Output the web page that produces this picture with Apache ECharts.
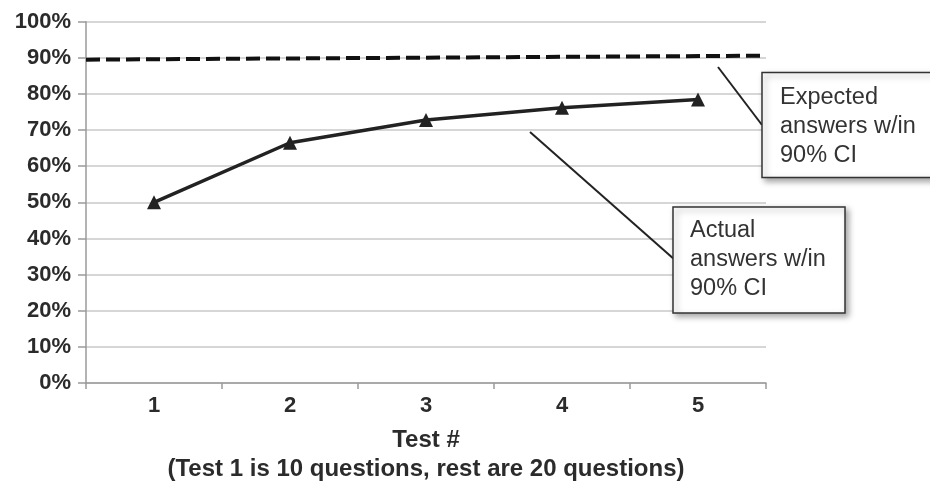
<!DOCTYPE html>
<html>
<head>
<meta charset="utf-8">
<script src="https://cdn.jsdelivr.net/npm/echarts@6/dist/echarts.min.js"></script>
<style>
  html, body { margin: 0; padding: 0; background: #fff; }
  #chart { width: 930px; height: 493px; }
</style>
</head>
<body>
<div id="chart"></div>
<script>
// Test number along the x axis
const tests = ['1', '2', '3', '4', '5'];
// Cumulative share of answers that fell inside the 90% confidence interval
const actualPct = [50, 66.5, 72.8, 76.2, 78.5];
// Expected share, drawn across the full plot width (start, end)
const expectedPct = [89.5, 90.6];
const expectedSpan = [0, 1];

const FONT = '"Liberation Sans", Arial, Helvetica, sans-serif';
const INK = '#2b2b2b';

const chart = echarts.init(document.getElementById('chart'), null, { renderer: 'canvas' });

chart.setOption({
  backgroundColor: '#ffffff',
  animation: false,
  grid: { left: 86, top: 21.7, width: 680, bottom: 110, containLabel: false },
  xAxis: [
    {
      type: 'category',
      data: tests,
      boundaryGap: true,
      axisLine: { show: true, lineStyle: { color: '#9a9a9a', width: 1.5 } },
      axisTick: { show: true, length: 6, lineStyle: { color: '#9a9a9a', width: 1.5 } },
      axisLabel: { margin: 12, color: INK, fontFamily: FONT, fontWeight: 'bold', fontSize: 22 },
      name: 'Test #\n(Test 1 is 10 questions, rest are 20 questions)',
      nameLocation: 'middle',
      nameGap: 43,
      nameTextStyle: { color: INK, fontFamily: FONT, fontWeight: 'bold', fontSize: 24, lineHeight: 29 }
    },
    {
      type: 'value',
      min: 0,
      max: 1,
      show: false
    }
  ],
  yAxis: {
    type: 'value',
    min: 0,
    max: 100,
    interval: 10,
    axisLine: { show: true, lineStyle: { color: '#9a9a9a', width: 1.5 } },
    axisTick: { show: true, length: 8, lineStyle: { color: '#9a9a9a', width: 1.5 } },
    axisLabel: { formatter: '{value}%', margin: 15, color: INK, fontFamily: FONT, fontWeight: 'bold', fontSize: 22 },
    splitLine: { show: true, lineStyle: { color: '#c9c9c9', width: 1.5 } }
  },
  series: [
    {
      name: 'Expected answers w/in 90% CI',
      type: 'line',
      xAxisIndex: 1,
      data: expectedSpan.map((x, i) => [x, expectedPct[i]]),
      symbol: 'none',
      lineStyle: { color: '#111', width: 4, type: [14, 6] },
      z: 3
    },
    {
      name: 'Actual answers w/in 90% CI',
      type: 'line',
      data: actualPct,
      symbol: 'triangle',
      symbolSize: 14,
      itemStyle: { color: '#222' },
      lineStyle: { color: '#222', width: 3.5 },
      z: 4
    }
  ],
  graphic: [
    // leader lines from the callouts to their series
    { type: 'line', shape: { x1: 718, y1: 67, x2: 762, y2: 125 }, style: { stroke: '#222', lineWidth: 2 }, z: 10 },
    { type: 'line', shape: { x1: 530, y1: 132, x2: 675, y2: 260 }, style: { stroke: '#222', lineWidth: 2 }, z: 10 },
    // callout: expected
    {
      type: 'rect', z: 11,
      shape: { x: 762, y: 72.5, width: 190, height: 105 },
      style: { fill: '#fff', stroke: '#333', lineWidth: 1.5, shadowBlur: 6, shadowOffsetX: 3, shadowOffsetY: 3, shadowColor: 'rgba(0,0,0,0.35)' }
    },
    {
      type: 'text', z: 12, x: 780, y: 83.5,
      style: { text: 'Expected\nanswers w/in\n90% CI', fill: '#333', font: '23.5px ' + FONT, lineHeight: 29 }
    },
    // callout: actual
    {
      type: 'rect', z: 11,
      shape: { x: 673, y: 207, width: 172, height: 106 },
      style: { fill: '#fff', stroke: '#333', lineWidth: 1.5, shadowBlur: 6, shadowOffsetX: 3, shadowOffsetY: 3, shadowColor: 'rgba(0,0,0,0.35)' }
    },
    {
      type: 'text', z: 12, x: 690, y: 216.5,
      style: { text: 'Actual\nanswers w/in\n90% CI', fill: '#333', font: '23.5px ' + FONT, lineHeight: 29 }
    }
  ]
});
</script>
</body>
</html>
